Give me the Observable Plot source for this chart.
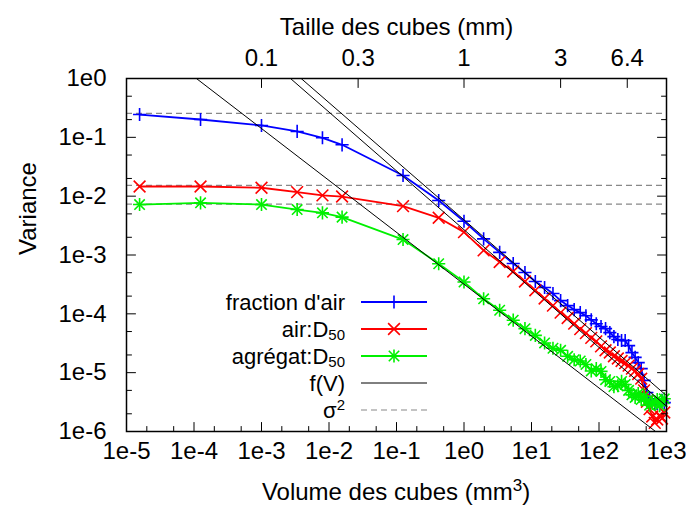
<!DOCTYPE html>
<html><head><meta charset="utf-8">
<script src="https://cdn.jsdelivr.net/npm/d3@7"></script>
<script src="https://cdn.jsdelivr.net/npm/@observablehq/plot@0.6"></script>
<style>body{margin:0;background:#fff}</style>
</head><body><div id="chart"></div>
<script>
// ---- data ----
const cubeSizes = [0.025,0.05,0.1,0.15,0.2,0.25,0.5,0.75,1,1.25,1.5,1.75,2,2.25,2.5,2.75,3,3.25,3.5,3.75,4,4.25,4.5,4.75,5,5.25,5.5,5.75,6,6.25,6.5,6.75,7,7.25,7.5,7.75,8,8.25,8.5,8.75,9,9.25,9.5,9.75];
const fractionAir = [0.244,0.201,0.159,0.126,0.0982,0.0746,0.0224,0.00843,0.00375,0.00188,0.00111,7.16e-4,5.04e-4,3.55e-4,2.80e-4,2.21e-4,1.68e-4,1.38e-4,1.18e-4,1.05e-4,9.3e-5,7.9e-5,6.8e-5,6.1e-5,5.6e-5,4.8e-5,4.1e-5,3.66e-5,3.52e-5,3.52e-5,2.88e-5,2.19e-5,1.82e-5,1.48e-5,1.17e-5,7.4e-6,4.6e-6,3.6e-6,3.2e-6,2.9e-6,3.0e-6,2.9e-6,3.4e-6,3.1e-6];
const airD50 = [0.0146,0.0146,0.0139,0.0117,0.0103,0.00986,0.00676,0.00429,0.00245,0.00120,7.6e-4,5.25e-4,3.55e-4,2.51e-4,1.82e-4,1.38e-4,1.05e-4,8.5e-5,6.8e-5,5.5e-5,4.7e-5,3.9e-5,3.4e-5,2.8e-5,2.4e-5,2.2e-5,1.9e-5,1.74e-5,1.58e-5,1.45e-5,1.32e-5,1.17e-5,1.07e-5,9.5e-6,7.9e-6,5.0e-6,3.2e-6,2.4e-6,1.8e-6,1.4e-6,1.6e-6,1.9e-6,1.66e-6,2.1e-6];
const aggD50 = [0.0072,0.0077,0.0072,0.00593,0.00521,0.00440,0.00183,7.1e-4,3.47e-4,1.80e-4,1.15e-4,7.8e-5,5.6e-5,4.3e-5,3.2e-5,2.6e-5,2.4e-5,1.9e-5,1.66e-5,1.58e-5,1.38e-5,1.07e-5,1.17e-5,1.05e-5,7.6e-6,7.1e-6,5.8e-6,6.0e-6,7.1e-6,6.3e-6,5.0e-6,4.2e-6,3.8e-6,4.4e-6,3.5e-6,4.0e-6,3.3e-6,2.8e-6,3.0e-6,3.2e-6,3.5e-6,2.75e-6,3.2e-6,3.6e-6];
// f(V) reference lines: endpoints (volume, variance)
const fitAirV = [1e-3, 1e3], fitAirVar = [3.85, 4.07e-6];
const fitD50AirV = [1e-3, 1e3], fitD50AirVar = [2.69, 2.69e-6];
const fitD50AggV = [1e-5, 1e3], fitD50AggVar = [8.2, 7.2e-7];
// sigma^2 (dashed)
const sigma2 = [0.255, 0.0153, 0.0073];
// ticks
const xTicks = [1e-5,1e-4,1e-3,1e-2,1e-1,1e0,1e1,1e2,1e3];
const xTickLabels = ["1e-5","1e-4","1e-3","1e-2","1e-1","1e0","1e1","1e2","1e3"];
const xMinor = [2e-5,5e-5,2e-4,5e-4,2e-3,5e-3,2e-2,5e-2,0.2,0.5,2,5,20,50,200,500];
const yTicks = [1e0,1e-1,1e-2,1e-3,1e-4,1e-5,1e-6];
const yTickLabels = ["1e0","1e-1","1e-2","1e-3","1e-4","1e-5","1e-6"];
const yMinor = [0.5,0.2,0.05,0.02,5e-3,2e-3,5e-4,2e-4,5e-5,2e-5,5e-6,2e-6];
const topSizes = [0.1, 0.3, 1, 3, 6.4];
const topLabels = ["0.1","0.3","1","3","6.4"];

const BLUE = "#0000ff", RED = "#ff0000", GREEN = "#00f000";
const FONT = "'Liberation Sans', Arial, Helvetica, sans-serif";
const FS = 24, LFS = 22;
const PR = 4.3, TR = 5.4, GPR = 4.3, GTR = 4.8, SW = 1.6;

const data = cubeSizes.map((s, i) => ({V: s ** 3, air: fractionAir[i], d50air: airD50[i], d50agg: aggD50[i]}));
const fits = [
  fitAirV.map((v, i) => ({V: v, f: fitAirVar[i]})),
  fitD50AirV.map((v, i) => ({V: v, f: fitD50AirVar[i]})),
  fitD50AggV.map((v, i) => ({V: v, f: fitD50AggVar[i]}))
];

const tickShape = {draw(ctx, l) { ctx.moveTo(0, 0); ctx.lineTo(0, -l); }};
function ticks(values, side, len) {
  const rot = {bottom: 0, top: 180, left: 90, right: -90}[side];
  const ch = (side === "bottom" || side === "top") ? {x: d => d} : {y: d => d};
  return Plot.vector(values, {...ch, frameAnchor: side, length: len, rotate: rot, anchor: "start", shape: tickShape, stroke: "black", strokeWidth: 1});
}

const plot = Plot.plot({
  width: 689, height: 510,
  marginLeft: 126, marginRight: 23, marginTop: 78, marginBottom: 79,
  x: {type: "log", domain: [1e-5, 1e3], axis: null},
  y: {type: "log", domain: [1e-6, 1], axis: null},
  style: {fontFamily: FONT, background: "white", color: "black", overflow: "visible"},
  marks: [
    Plot.ruleY(sigma2, {stroke: "#888", strokeWidth: 1.2, strokeDasharray: "6,4"}),
    Plot.line(data, {x: "V", y: "air", stroke: BLUE, strokeWidth: 1.8}),
    Plot.dot(data, {x: "V", y: "air", symbol: "plus", r: PR, stroke: BLUE, fill: "none", strokeWidth: SW}),
    Plot.line(data, {x: "V", y: "d50air", stroke: RED, strokeWidth: 1.8}),
    Plot.dot(data, {x: "V", y: "d50air", symbol: "times", r: TR, stroke: RED, fill: "none", strokeWidth: SW}),
    Plot.line(data, {x: "V", y: "d50agg", stroke: GREEN, strokeWidth: 1.8}),
    Plot.dot(data, {x: "V", y: "d50agg", symbol: "plus", r: GPR, stroke: GREEN, fill: "none", strokeWidth: SW}),
    Plot.dot(data, {x: "V", y: "d50agg", symbol: "times", r: GTR, stroke: GREEN, fill: "none", strokeWidth: SW}),
    ...fits.map(f => Plot.line(f, {x: "V", y: "f", stroke: "black", strokeWidth: 1, clip: true})),
    ticks(xTicks, "bottom", 9), ticks(xMinor, "bottom", 5),
    ticks(yTicks, "left", 9), ticks(yMinor, "left", 5),
    ticks(yTicks, "right", 9), ticks(yMinor, "right", 5),
    ticks(topSizes.map(s => s ** 3), "top", 9),
    Plot.frame({stroke: "black", strokeWidth: 1.5}),
    Plot.text(xTicks, {x: d => d, text: (d, i) => xTickLabels[i], frameAnchor: "bottom", dy: 27, fontSize: FS}),
    Plot.text(yTicks, {y: d => d, text: (d, i) => yTickLabels[i], frameAnchor: "left", dx: -20, textAnchor: "end", fontSize: FS}),
    Plot.text(topSizes, {x: d => d ** 3, text: (d, i) => topLabels[i], frameAnchor: "top", dy: -30, fontSize: FS}),
    Plot.text(["Taille des cubes (mm)"], {frameAnchor: "top", dy: -61, fontSize: FS}),
    Plot.text(["Variance"], {frameAnchor: "left", dx: -98, rotate: -90, fontSize: FS})
  ]
});
document.getElementById("chart").appendChild(plot);

// x label with superscript, and legend (with sub/superscripts)
const svg = d3.select(plot);
const g = svg.append("g").attr("font-family", FONT).attr("fill", "black");
const xl = g.append("text").attr("font-size", FS).attr("x", 396).attr("y", 492).attr("dy", "0.35em").attr("text-anchor", "middle");
xl.append("tspan").text("Volume des cubes (mm");
xl.append("tspan").attr("font-size", 17).attr("dy", -9).text("3");
xl.append("tspan").attr("dy", 9).text(")");

const legend = [
  {main: "fraction d'air", color: BLUE, syms: [[d3.symbolPlus, PR]], dash: null, w: 1.8},
  {main: "air:D", sub: "50", color: RED, syms: [[d3.symbolTimes, TR]], dash: null, w: 1.8},
  {main: "agrégat:D", sub: "50", color: GREEN, syms: [[d3.symbolPlus, GPR], [d3.symbolTimes, GTR]], dash: null, w: 1.8},
  {main: "f(V)", color: "black", syms: [], dash: null, w: 1},
  {main: "σ", sup: "2", color: "#888", syms: [], dash: "6,4", w: 1.2}
];
const rowY = [302, 329, 356, 383, 410];
legend.forEach((e, i) => {
  const y = rowY[i];
  const t = g.append("text").attr("font-size", LFS).attr("x", 345).attr("y", y).attr("dy", "0.35em").attr("text-anchor", "end");
  t.append("tspan").text(e.main);
  if (e.sub) t.append("tspan").attr("font-size", 15).attr("dy", 3).text(e.sub);
  if (e.sup) t.append("tspan").attr("font-size", 15).attr("dy", -8).text(e.sup);
  g.append("line").attr("x1", 361).attr("x2", 427).attr("y1", y).attr("y2", y)
    .attr("stroke", e.color).attr("stroke-width", e.w).attr("stroke-dasharray", e.dash);
  e.syms.forEach(([sym, r]) => {
    g.append("path").attr("d", d3.symbol(sym, r * r * Math.PI)()).attr("transform", `translate(394,${y})`)
      .attr("fill", "none").attr("stroke", e.color).attr("stroke-width", SW);
  });
});
</script>
</body></html>
